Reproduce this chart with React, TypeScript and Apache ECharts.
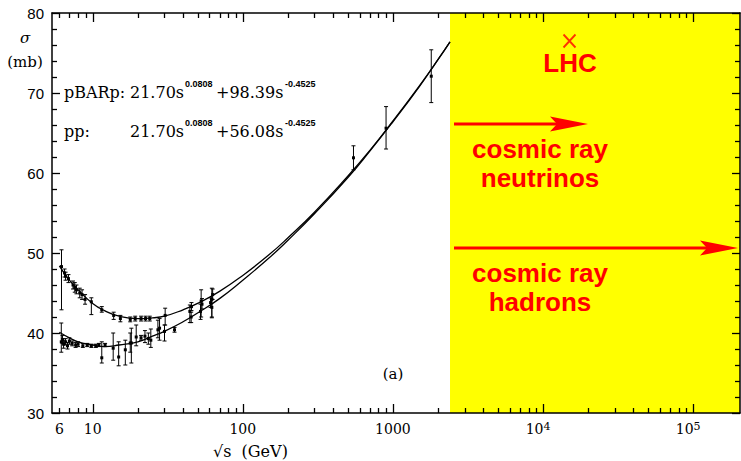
import React, { useEffect, useRef } from 'react';
import * as echarts from 'echarts';

// ---- data ----
const curveSqrtS = [6, 7, 8, 10, 12, 15, 20, 25, 30, 40, 50, 70, 100, 150, 200, 300, 500, 700, 1000, 1500, 2000, 2400];
const pbarpCurve = [48.4, 46.6, 45.4, 43.7, 42.8, 42.1, 41.8, 41.9, 42.1, 42.9, 43.7, 45.2, 47.2, 49.8, 51.9, 55.1, 59.6, 62.8, 66.5, 70.9, 74.2, 76.4];
const ppCurve = [40.1, 39.4, 38.9, 38.5, 38.3, 38.5, 38.9, 39.6, 40.2, 41.4, 42.5, 44.3, 46.6, 49.4, 51.6, 54.9, 59.4, 62.7, 66.4, 70.8, 74.2, 76.4];

// [sqrt(s), sigma, low, high]
const pbarpPoints = [
  [6.2, 48.3, 42.9, 50.4], [6.5, 47.5, 47.0, 48.0], [6.6, 47.1, 46.6, 47.6], [6.9, 46.8, 46.3, 47.3],
  [7.4, 46.0, 45.5, 46.5], [7.6, 45.7, 45.1, 46.3], [7.8, 45.4, 44.9, 46.0], [8.2, 45.0, 44.4, 45.6],
  [8.5, 44.8, 44.2, 45.4], [8.9, 44.2, 43.6, 44.8], [9.8, 43.9, 42.3, 44.4], [11.5, 42.9, 42.6, 43.3],
  [13.8, 42.2, 41.7, 42.6], [15.3, 41.8, 41.4, 42.2], [17.8, 41.7, 41.4, 42.0], [19.2, 41.8, 41.5, 42.1],
  [21.0, 41.8, 41.5, 42.1], [22.5, 41.8, 41.5, 42.1], [24.0, 41.8, 41.5, 42.1], [30.4, 42.2, 41.0, 43.1],
  [44.4, 42.7, 41.3, 43.5], [45.5, 43.3, 42.8, 43.8], [52.8, 44.0, 42.0, 45.4], [53.5, 43.6, 43.0, 44.3],
  [61.0, 43.8, 43.2, 44.4], [62.2, 44.2, 41.9, 45.6], [63.0, 44.8, 44.2, 45.5],
];
const ppPoints = [
  [6.18, 38.9, 37.6, 41.25], [6.3, 39.2, 38.7, 39.7], [6.4, 38.6, 38.1, 39.1], [6.6, 38.9, 38.5, 39.3],
  [6.8, 38.4, 38.0, 38.8], [7.0, 39.0, 38.6, 39.4], [7.3, 38.7, 38.4, 39.0], [7.7, 38.5, 38.2, 38.8],
  [8.0, 38.6, 38.3, 38.9], [8.6, 38.4, 38.2, 38.7], [9.2, 38.5, 38.3, 38.7], [9.8, 38.4, 38.2, 38.6],
  [10.5, 38.4, 38.2, 38.6], [11.0, 38.5, 38.3, 38.7], [11.5, 36.9, 36.25, 38.9], [12.1, 38.5, 38.3, 38.7],
  [13.7, 38.1, 36.6, 40.0], [14.9, 37.0, 35.9, 38.9], [16.5, 37.9, 36.0, 39.1], [17.8, 38.75, 37.6, 40.0],
  [18.1, 38.75, 36.25, 40.6], [19.5, 39.5, 38.4, 41.0], [21.0, 39.4, 39.1, 39.7], [22.3, 39.6, 38.8, 40.3],
  [23.5, 39.3, 38.6, 40.0], [24.4, 39.1, 38.2, 40.5], [27.2, 40.4, 39.4, 41.6], [27.9, 40.6, 39.1, 41.8],
  [30.1, 40.2, 39.0, 41.0], [35.1, 40.4, 40.1, 40.7], [45.3, 42.0, 41.3, 42.6], [52.3, 42.7, 41.7, 43.6],
  [62.2, 43.2, 42.0, 44.2],
];
const colliderPoints = [[546, 61.9, 60.4, 63.4], [900, 65.6, 63.0, 68.3], [1800, 72.1, 68.8, 75.4]];
const lhcPoint = [[15000, 76.5]];
const cosmicStart = 2400;

const xMin = 5.36;
const xMax = 205000;
const yMin = 30;
const yMax = 80;
const yInterval = 10;
const majorXTicks = [10, 100, 1000, 10000, 100000];
const minorXTicks = [
  6, 7, 8, 9,
  20, 30, 40, 50, 60, 70, 80, 90,
  200, 300, 400, 500, 600, 700, 800, 900,
  2000, 3000, 4000, 5000, 6000, 7000, 8000, 9000,
  20000, 30000, 40000, 50000, 60000, 70000, 80000, 90000,
];
const majorYTicks = [30, 40, 50, 60, 70, 80];
const minorYTicks = [32, 34, 36, 38, 42, 44, 46, 48, 52, 54, 56, 58, 62, 64, 66, 68, 72, 74, 76, 78];
const xLabelValues = [6, 10, 100, 1000, 10000, 100000];

const SERIF = '"DejaVu Serif", serif';
const SANS = '"Liberation Sans", Arial, sans-serif';
const RED = '#ff0000';

function errorBarItem(params: any, api: any) {
  const x = api.value(0);
  const p = api.coord([x, api.value(1)]);
  const lo = api.coord([x, api.value(2)]);
  const hi = api.coord([x, api.value(3)]);
  const cap = 2;
  return {
    type: 'group',
    children: [
      { type: 'line', shape: { x1: p[0], y1: hi[1], x2: p[0], y2: lo[1] }, style: { stroke: '#000', lineWidth: 1 } },
      { type: 'line', shape: { x1: p[0] - cap, y1: hi[1], x2: p[0] + cap, y2: hi[1] }, style: { stroke: '#000', lineWidth: 1 } },
      { type: 'line', shape: { x1: p[0] - cap, y1: lo[1], x2: p[0] + cap, y2: lo[1] }, style: { stroke: '#000', lineWidth: 1 } },
      { type: 'rect', shape: { x: p[0] - 1.5, y: p[1] - 1.5, width: 3, height: 3 }, style: { fill: '#000' } },
    ],
  };
}

function xAxisDef(position: 'top' | 'bottom', labels: boolean) {
  return {
    type: 'log',
    logBase: 10,
    min: xMin,
    max: xMax,
    position,
    z: 5,
    axisLine: { show: true, onZero: false, lineStyle: { color: '#000', width: 1.5 } },
    axisTick: { show: false },
    splitLine: { show: false },
    minorTick: { show: false },
    axisLabel: labels
      ? {
          show: true,
          customValues: xLabelValues,
          margin: 8,
          color: '#000',
          fontFamily: SERIF,
          fontSize: 14,
          lineHeight: 16,
          formatter: (v: number) => {
            if (v >= 10000) return '{b|10}{sup|' + Math.round(Math.log10(v)) + '}';
            return '{b|' + Math.round(v) + '}';
          },
          rich: {
            b: { fontFamily: SERIF, fontSize: 14, lineHeight: 16, color: '#000' },
            sup: { fontFamily: SERIF, fontSize: 11, lineHeight: 9, verticalAlign: 'top', color: '#000', padding: [0, 10, 0, 0] },
          },
        }
      : { show: false },
  };
}

function yAxisDef(position: 'left' | 'right', labels: boolean) {
  return {
    type: 'value',
    min: yMin,
    max: yMax,
    interval: yInterval,
    position,
    z: 5,
    axisLine: { show: true, onZero: false, lineStyle: { color: '#000', width: 1.5 } },
    axisTick: { show: false },
    minorTick: { show: false },
    splitLine: { show: false },
    minorSplitLine: { show: false },
    axisLabel: labels
      ? { show: true, margin: 8, color: '#000', fontFamily: SANS, fontSize: 15 }
      : { show: false },
  };
}

function textEl(text: string, x: number, y: number, font: string, opts: any = {}) {
  const style: any = {
    text,
    font,
    fill: opts.fill || '#000',
    textAlign: opts.align || 'left',
    textVerticalAlign: 'middle',
  };
  if (opts.lineHeight) style.lineHeight = opts.lineHeight;
  return { type: 'text', x, y, z: 20, silent: true, style };
}

function tickLine(x1: number, y1: number, x2: number, y2: number) {
  return {
    type: 'line',
    z: 30,
    silent: true,
    shape: { x1, y1, x2, y2 },
    style: { stroke: '#000', lineWidth: 1.3 },
  };
}

export default function App() {
  const ref = useRef<HTMLDivElement>(null);
  useEffect(() => {
    document.body.style.margin = '0';
    if (!ref.current) return;
    const chart = echarts.init(ref.current, undefined, { renderer: 'svg' });
    const main = '16px ' + SERIF;
    const sup = 'bold 9px ' + SANS;
    const big = 'bold 26px ' + SANS;
    const graphicEls: any[] = [
      textEl('σ', 25, 38, 'italic 15px ' + SERIF, { align: 'center' }),
      textEl('(mb)', 25, 62, '15px ' + SERIF, { align: 'center' }),
      textEl('pBARp:', 64, 92, main),
      textEl('21.70s', 130, 92, main),
      textEl('0.0808', 185, 84, sup),
      textEl('+98.39s', 216, 92, main),
      textEl('-0.4525', 285, 84, sup),
      textEl('pp:', 64, 131, main),
      textEl('21.70s', 130, 131, main),
      textEl('0.0808', 185, 123, sup),
      textEl('+56.08s', 216, 131, main),
      textEl('-0.4525', 285, 123, sup),
      textEl('(a)', 393, 374, '15px ' + SERIF, { align: 'center' }),
      textEl('√s  (GeV)', 213, 451, '16px ' + SERIF),
      textEl('LHC', 570, 62.5, big, { align: 'center', fill: RED }),
      textEl('cosmic ray\nneutrinos', 540, 163, big, { align: 'center', fill: RED, lineHeight: 29 }),
      textEl('cosmic ray\nhadrons', 540, 287, big, { align: 'center', fill: RED, lineHeight: 29 }),
      {
        type: 'line', z: 20, silent: true,
        shape: { x1: 454, y1: 124, x2: 560, y2: 124 },
        style: { stroke: RED, lineWidth: 3 },
      },
      {
        type: 'polygon', z: 20, silent: true,
        shape: { points: [[550, 116.5], [588, 124], [550, 131.5], [557, 124]] },
        style: { fill: RED },
      },
      {
        type: 'line', z: 20, silent: true,
        shape: { x1: 454, y1: 248, x2: 710, y2: 248 },
        style: { stroke: RED, lineWidth: 3 },
      },
      {
        type: 'polygon', z: 20, silent: true,
        shape: { points: [[700, 240.5], [738, 248], [700, 255.5], [707, 248]] },
        style: { fill: RED },
      },
    ];
    const option: any = {
      animation: false,
      backgroundColor: '#fff',
      grid: { left: 52, right: 1, top: 13, bottom: 48, containLabel: false, outerBoundsMode: 'none' },
      xAxis: [xAxisDef('bottom', true), xAxisDef('top', false)],
      yAxis: [yAxisDef('left', true), yAxisDef('right', false)],
      series: [
        {
          type: 'scatter',
          name: 'LHC',
          data: lhcPoint,
          symbol: 'path://M0,0L10,10M10,0L0,10',
          symbolSize: [12, 13],
          itemStyle: { color: 'rgba(0,0,0,0)', borderColor: RED, borderWidth: 2 },
          z: 3,
          markArea: {
            silent: true,
            itemStyle: { color: '#ffff00', opacity: 1, borderWidth: 0 },
            data: [[{ xAxis: cosmicStart }, { xAxis: xMax }]],
          },
        },
        {
          type: 'line',
          name: 'pBARp fit',
          data: curveSqrtS.map((x, i) => [x, pbarpCurve[i]]),
          smooth: true,
          showSymbol: false,
          symbol: 'none',
          lineStyle: { color: '#000', width: 1.3 },
          z: 4,
        },
        {
          type: 'line',
          name: 'pp fit',
          data: curveSqrtS.map((x, i) => [x, ppCurve[i]]),
          smooth: true,
          showSymbol: false,
          symbol: 'none',
          lineStyle: { color: '#000', width: 1.3 },
          z: 4,
        },
        { type: 'custom', name: 'pBARp data', data: pbarpPoints, renderItem: errorBarItem, encode: { x: 0, y: [1, 2, 3] }, z: 4 },
        { type: 'custom', name: 'pp data', data: ppPoints, renderItem: errorBarItem, encode: { x: 0, y: [1, 2, 3] }, z: 4 },
        { type: 'custom', name: 'collider data', data: colliderPoints, renderItem: errorBarItem, encode: { x: 0, y: [1, 2, 3] }, z: 4 },
      ],
      graphic: graphicEls,
    };
    chart.setOption(option);

    // inward ticks on all four sides, positioned through the cartesian of the fit series
    const toPx = (x: number, y: number): number[] => {
      const r: any = chart.convertToPixel({ seriesIndex: 1 } as any, [x, y]);
      return Array.isArray(r) ? r : [NaN, NaN];
    };
    const [left, bottom] = toPx(xMin, yMin);
    const [right, top] = toPx(xMax, yMax);
    const tickEls: any[] = [];
    const ok = [left, right, top, bottom].every((n) => typeof n === 'number' && isFinite(n));
    if (ok) {
      const crisp = (n: number) => Math.round(n) + 0.5;
      majorXTicks.forEach((v) => {
        const px = crisp(toPx(v, yMin)[0]);
        tickEls.push(tickLine(px, bottom, px, bottom - 9), tickLine(px, top, px, top + 9));
      });
      minorXTicks.forEach((v) => {
        const px = crisp(toPx(v, yMin)[0]);
        tickEls.push(tickLine(px, bottom, px, bottom - 5), tickLine(px, top, px, top + 5));
      });
      majorYTicks.forEach((v) => {
        const py = crisp(toPx(xMin, v)[1]);
        tickEls.push(tickLine(left, py, left + 8, py), tickLine(right, py, right - 8, py));
      });
      minorYTicks.forEach((v) => {
        const py = crisp(toPx(xMin, v)[1]);
        tickEls.push(tickLine(left, py, left + 5, py), tickLine(right, py, right - 5, py));
      });
      chart.setOption({ graphic: [...graphicEls, ...tickEls] });
    }
    return () => chart.dispose();
  }, []);
  return <div ref={ref} style={{ position: 'absolute', left: 0, top: 0, width: 741, height: 461 }} />;
}
